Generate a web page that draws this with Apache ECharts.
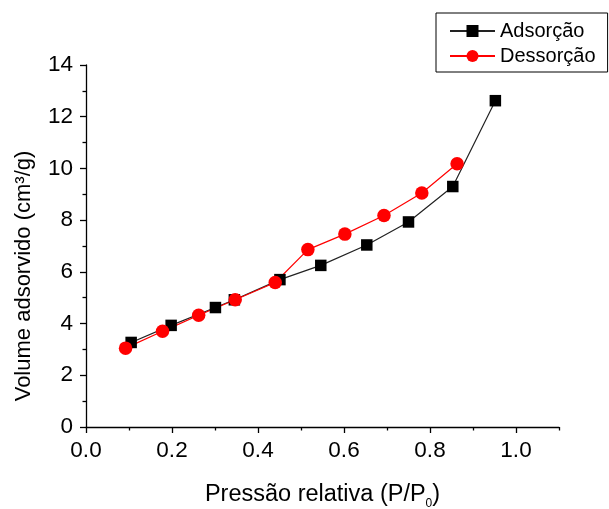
<!DOCTYPE html>
<html>
<head>
<meta charset="utf-8">
<script src="https://cdn.jsdelivr.net/npm/echarts@6/dist/echarts.min.js"></script>
<style>html,body{margin:0;padding:0;background:#fff}#c{width:609px;height:509px}</style>
</head>
<body>
<div id="c"></div>
<script>
var adsX = [0.105, 0.198, 0.301, 0.345, 0.451, 0.546, 0.653, 0.750, 0.853, 0.952];
var adsY = [3.27, 3.93, 4.62, 4.92, 5.70, 6.25, 7.04, 7.93, 9.30, 12.62];
var desX = [0.092, 0.178, 0.262, 0.347, 0.440, 0.516, 0.602, 0.693, 0.781, 0.863];
var desY = [3.05, 3.70, 4.32, 4.92, 5.59, 6.86, 7.46, 8.18, 9.05, 10.18];
var xMajorTicks = [0, 0.2, 0.4, 0.6, 0.8, 1.0];
var xMinorTicks = [0.1, 0.3, 0.5, 0.7, 0.9, 1.1];
var seriesNames = ['Adsorção', 'Dessorção'];
var xTitle = 'Pressão relativa (P/P{sub|0})';
var yTitle = 'Volume adsorvido (cm³/g)';

function pairs(xs, ys) { return xs.map(function (x, i) { return [x, ys[i]]; }); }
var FONT = '"Liberation Sans", Arial, Helvetica, sans-serif';

var chart = echarts.init(document.getElementById('c'), null, {renderer: 'canvas'});
chart.setOption({
  animation: false,
  backgroundColor: '#fff',
  textStyle: {fontFamily: FONT, color: '#000'},
  grid: {left: 86, right: 50, top: 65, bottom: 82, containLabel: false, outerBoundsMode: 'none'},
  legend: {
    orient: 'vertical', left: 436, top: 13,
    data: seriesNames,
    itemWidth: 45, itemHeight: 15, itemGap: 5,
    padding: [8, 12, 6, 13],
    borderColor: '#000', borderWidth: 1, borderRadius: 0,
    textStyle: {fontSize: 20, color: '#000', fontFamily: FONT}
  },
  xAxis: [{
    type: 'value', min: 0, max: 1.1, interval: 0.2,
    name: xTitle, nameLocation: 'middle', nameGap: 53,
    nameTextStyle: {fontSize: 23.5, color: '#000', fontFamily: FONT,
      rich: {sub: {fontSize: 12, padding: [18, 0, 0, 0], fontFamily: FONT, color: '#000'}}},
    axisLine: {show: true, lineStyle: {color: '#000', width: 1.3}},
    axisTick: {show: true, inside: false, length: 6, lineStyle: {color: '#000', width: 1.3}, customValues: xMajorTicks},
    axisLabel: {fontSize: 22.5, color: '#000', margin: 12, customValues: xMajorTicks,
      formatter: function (v) { return v.toFixed(1); }},
    splitLine: {show: false}
  }, {
    type: 'value', min: 0, max: 1.1, interval: 0.1, position: 'bottom', gridIndex: 0,
    axisLine: {show: false},
    axisTick: {show: true, length: 3.5, lineStyle: {color: '#000', width: 1.3}, customValues: xMinorTicks},
    axisLabel: {show: false},
    splitLine: {show: false}
  }],
  yAxis: {
    type: 'value', min: 0, max: 14, interval: 2,
    name: yTitle, nameLocation: 'middle', nameGap: 51, nameRotate: 90,
    nameTextStyle: {fontSize: 22, color: '#000', fontFamily: FONT, padding: [0, 60, 0, 0]},
    axisLine: {show: true, lineStyle: {color: '#000', width: 1.3}},
    axisTick: {show: true, length: 6, lineStyle: {color: '#000', width: 1.3}},
    minorTick: {show: true, splitNumber: 2, length: 3.5, lineStyle: {color: '#000', width: 1.3}},
    axisLabel: {fontSize: 22.5, color: '#000', margin: 13},
    splitLine: {show: false}
  },
  series: [{
    name: seriesNames[0], type: 'line', data: pairs(adsX, adsY),
    symbol: 'rect', symbolSize: 11.5,
    lineStyle: {color: '#222', width: 1.2},
    itemStyle: {color: '#000'}
  }, {
    name: seriesNames[1], type: 'line', data: pairs(desX, desY),
    symbol: 'circle', symbolSize: 13.5,
    lineStyle: {color: '#ff0000', width: 1.2},
    itemStyle: {color: '#ff0000'}
  }]
});
</script>
</body>
</html>
